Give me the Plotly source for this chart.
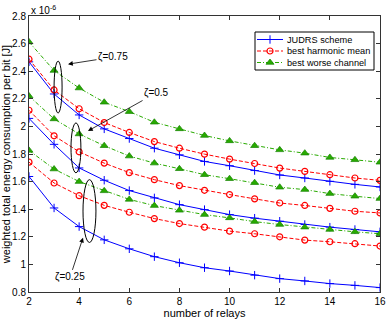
import plotly.graph_objects as go

relays = list(range(2, 17))

# values in units of 1e-6 J
judrs_075 = [2.468, 2.235, 2.083, 1.982, 1.912, 1.842, 1.794, 1.746, 1.715, 1.680, 1.648, 1.626, 1.602, 1.580, 1.561]
harm_075 = [2.487, 2.264, 2.128, 2.028, 1.956, 1.890, 1.842, 1.799, 1.763, 1.731, 1.698, 1.674, 1.650, 1.626, 1.609]
worse_075 = [2.612, 2.405, 2.278, 2.175, 2.107, 2.030, 1.982, 1.934, 1.895, 1.860, 1.830, 1.806, 1.775, 1.758, 1.740]

judrs_050 = [2.058, 1.870, 1.699, 1.610, 1.535, 1.482, 1.433, 1.397, 1.361, 1.335, 1.313, 1.289, 1.270, 1.253, 1.236]
harm_050 = [2.117, 1.932, 1.816, 1.734, 1.665, 1.614, 1.571, 1.537, 1.506, 1.475, 1.445, 1.427, 1.406, 1.385, 1.373]
worse_050 = [2.220, 2.054, 1.945, 1.860, 1.785, 1.734, 1.693, 1.650, 1.621, 1.592, 1.559, 1.542, 1.513, 1.494, 1.477]

judrs_025 = [1.637, 1.409, 1.274, 1.178, 1.113, 1.056, 1.012, 0.976, 0.952, 0.922, 0.897, 0.880, 0.861, 0.848, 0.832]
harm_025 = [1.741, 1.590, 1.498, 1.428, 1.378, 1.332, 1.296, 1.270, 1.241, 1.222, 1.200, 1.176, 1.164, 1.150, 1.133]
worse_025 = [1.826, 1.691, 1.600, 1.533, 1.471, 1.426, 1.392, 1.361, 1.337, 1.310, 1.289, 1.270, 1.253, 1.236, 1.222]

series_names = ["JUDRS scheme", "best harmonic mean", "best worse channel"]
x_ticks = [2, 4, 6, 8, 10, 12, 14, 16]
y_ticks = [0.8, 1.0, 1.2, 1.4, 1.6, 1.8, 2.0, 2.2, 2.4, 2.6, 2.8]
zeta_labels = ["ζ=0.75", "ζ=0.5", "ζ=0.25"]

BLUE = "rgb(0,0,255)"
RED = "rgb(255,0,0)"
GREEN = "rgb(40,170,0)"
DGREEN = "rgb(20,130,0)"

styles = {
    "JUDRS scheme": dict(line=dict(color=BLUE, width=1, dash="solid"),
                         marker=dict(symbol="cross-thin-open", size=6, color=BLUE, line=dict(color=BLUE, width=1))),
    "best harmonic mean": dict(line=dict(color=RED, width=1, dash="4px,2px"),
                               marker=dict(symbol="circle-open", size=6, color=RED, line=dict(color=RED, width=1.2))),
    "best worse channel": dict(line=dict(color=GREEN, width=1, dash="4px,2px,1px,2px"),
                               marker=dict(symbol="triangle-up", size=7, color=GREEN, line=dict(color=DGREEN, width=0.7))),
}

groups = [
    (judrs_075, harm_075, worse_075),
    (judrs_050, harm_050, worse_050),
    (judrs_025, harm_025, worse_025),
]

fig = go.Figure()
for gi, grp in enumerate(groups):
    for name, vals in zip(series_names, grp):
        fig.add_trace(go.Scatter(
            x=relays, y=vals, mode="lines+markers", name=name,
            legendgroup=name, showlegend=False,
            line=styles[name]["line"], marker=styles[name]["marker"],
        ))

# ---- compact MATLAB-like legend drawn on an overlay axis in pixel units ----
LX0, LX1, LY0, LY1 = 255, 374, 32, 70
row_y = [39.5, 51, 62.5]
fig.add_shape(type="rect", xref="x2", yref="y2", x0=LX0, x1=LX1, y0=LY0, y1=LY1,
              line=dict(color="black", width=1), fillcolor="white", layer="below")
for name, ry in zip(series_names, row_y):
    st = styles[name]
    fig.add_trace(go.Scatter(x=[257, 283], y=[ry, ry], mode="lines", xaxis="x2", yaxis="y2",
                             line=st["line"], showlegend=False, hoverinfo="skip"))
    fig.add_trace(go.Scatter(x=[270], y=[ry], mode="markers", xaxis="x2", yaxis="y2",
                             marker=st["marker"], showlegend=False, hoverinfo="skip"))
    fig.add_annotation(x=285, y=ry, xref="x2", yref="y2", xanchor="left", yanchor="middle",
                       text=name, showarrow=False, font=dict(size=9.2, color="black"))

# ellipses
ellipses = [(3.0, 3.32, 2.097, 2.473), (3.675, 4.07, 1.664, 2.025), (4.154, 4.67, 1.159, 1.614)]
for x0, x1, y0, y1 in ellipses:
    fig.add_shape(type="circle", xref="x", yref="y", x0=x0, x1=x1, y0=y0, y1=y1,
                  line=dict(color="black", width=1))

# arrows with labels: (text, text_x, text_y, head_x, head_y)
arrows = [
    (zeta_labels[0], 5.351, 2.502, 3.556, 2.451),
    (zeta_labels[1], 7.066, 2.242, 4.353, 1.967),
    (zeta_labels[2], 3.635, 0.906, 4.154, 1.194),
]
for t, tx, ty, hx, hy in arrows:
    fig.add_annotation(x=hx, y=hy, ax=tx, ay=ty, xref="x", yref="y", axref="x", ayref="y",
                       text=t, showarrow=True, arrowhead=2, arrowsize=1.2, arrowwidth=0.8,
                       arrowcolor="black", font=dict(size=10, color="black"))

fig.add_annotation(x=0, y=1, xref="paper", yref="paper", xanchor="left", yanchor="bottom",
                   text="x 10<sup>-6</sup>", showarrow=False, font=dict(size=10, color="black"),
                   yshift=-2)

axis_common = dict(showline=True, linecolor="#333", linewidth=1, mirror="ticks",
                   ticks="inside", ticklen=4, tickcolor="#333", showgrid=False, zeroline=False,
                   tickfont=dict(size=10, color="black"), automargin=False)

xaxis = dict(range=[2, 16], tickvals=x_ticks,
             title=dict(text="number of relays", font=dict(size=11, color="black"), standoff=2),
             **axis_common)
yaxis = dict(range=[0.8, 2.8], tickvals=y_ticks,
             title=dict(text="weighted total energy consumption per bit [J]", font=dict(size=11, color="black"), standoff=2),
             **axis_common)

fig.update_layout(
    width=387, height=319,
    margin=dict(l=29, r=7, t=16, b=27),
    paper_bgcolor="white", plot_bgcolor="white",
    font=dict(family="Liberation Sans, Arial, sans-serif", color="black"),
    showlegend=False,
    xaxis=xaxis, yaxis=yaxis,
    xaxis2=dict(overlaying="x", range=[29, 380], visible=False, domain=[0, 1], anchor="y2",
                fixedrange=True, automargin=False),
    yaxis2=dict(overlaying="y", range=[292, 16], visible=False, domain=[0, 1], anchor="x2",
                fixedrange=True, automargin=False),
)

fig.write_html("out.html", config={"displayModeBar": False},
               post_script="document.body.style.margin='0';")
